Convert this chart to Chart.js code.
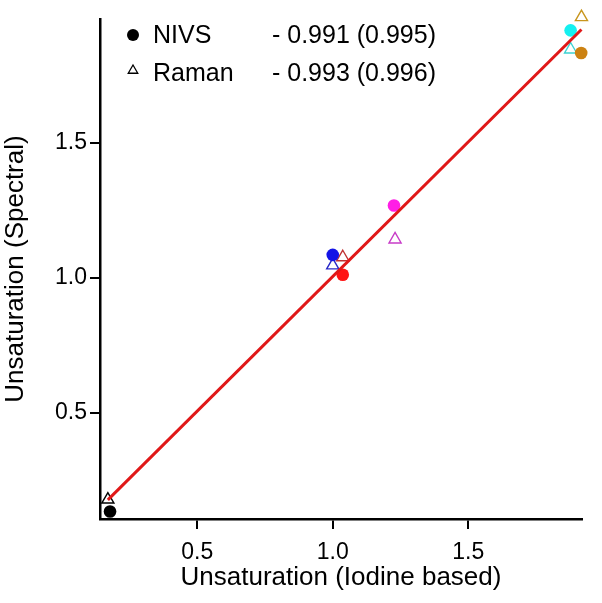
<!DOCTYPE html>
<html>
<head>
<meta charset="utf-8">
<script src="https://cdn.jsdelivr.net/npm/chart.js@4/dist/chart.umd.min.js"></script>
<style>
  html, body { margin: 0; padding: 0; background: #ffffff; }
  #wrap { width: 602px; height: 603px; }
</style>
</head>
<body>
<div id="wrap"><canvas id="c" width="602" height="603"></canvas></div>
<script>
// Samples (same order in every array): black, blue, red, magenta, cyan, brown
const xNIVS = [0.178, 1.000, 1.037, 1.226, 1.878, 1.917];
const yNIVS = [0.134, 1.085, 1.011, 1.268, 1.917, 1.833];
const xRaman = [0.170, 1.000, 1.037, 1.230, 1.878, 1.918];
const yRaman = [0.178, 1.046, 1.076, 1.142, 1.846, 1.966];
const nivsColors = ['#000000', '#1414e6', '#ff1414', '#ff1ee6', '#14f0f0', '#cc8212'];
const ramanColors = ['#000000', '#2828c8', '#c03232', '#c83cc8', '#3cd2d2', '#c8961e'];
// Regression line end points
const fitX = [0.170, 1.918];
const fitY = [0.177, 1.920];
const xTicks = [0.5, 1.0, 1.5];
const yTicks = [0.5, 1.0, 1.5];
const legendRows = [
  { name: 'NIVS', stat: '- 0.991 (0.995)', style: 'circle' },
  { name: 'Raman', stat: '- 0.993 (0.996)', style: 'triangle' }
];

const FONT = '"Liberation Sans", Arial, Helvetica, sans-serif';

const toPts = (xs, ys) => xs.map((x, i) => ({ x: x, y: ys[i] }));

const legendPlugin = {
  id: 'customLegend',
  afterDraw(chart) {
    const ctx = chart.ctx;
    ctx.save();
    ctx.fillStyle = '#000';
    ctx.strokeStyle = '#000';
    ctx.font = '25px ' + FONT;
    ctx.textBaseline = 'alphabetic';
    ctx.textAlign = 'left';
    const rows = [{ my: 35, by: 43 }, { my: 70.5, by: 81 }];
    legendRows.forEach((r, i) => {
      const mx = 133, my = rows[i].my;
      if (r.style === 'circle') {
        ctx.beginPath();
        ctx.arc(mx, my, 6, 0, Math.PI * 2);
        ctx.fill();
      } else {
        const rad = 5.5;
        ctx.beginPath();
        ctx.lineWidth = 1.3;
        ctx.moveTo(mx, my - rad);
        ctx.lineTo(mx + rad * Math.sin(2 * Math.PI / 3), my - rad * Math.cos(2 * Math.PI / 3));
        ctx.lineTo(mx + rad * Math.sin(4 * Math.PI / 3), my - rad * Math.cos(4 * Math.PI / 3));
        ctx.closePath();
        ctx.stroke();
      }
      ctx.fillText(r.name, 153, rows[i].by);
      ctx.fillText(r.stat, 272, rows[i].by);
    });
    ctx.restore();
  }
};

new Chart(document.getElementById('c'), {
  type: 'scatter',
  data: {
    datasets: [
      {
        label: 'Fit',
        data: toPts(fitX, fitY),
        showLine: true,
        borderColor: '#e01818',
        borderWidth: 3,
        pointRadius: 0,
        fill: false,
        order: 0
      },
      {
        label: 'NIVS',
        data: toPts(xNIVS, yNIVS),
        pointStyle: 'circle',
        pointRadius: 6.3,
        pointBackgroundColor: nivsColors,
        pointBorderColor: nivsColors,
        pointBorderWidth: 0,
        order: 1
      },
      {
        label: 'Raman',
        data: toPts(xRaman, yRaman),
        pointStyle: 'triangle',
        pointRadius: 7,
        pointBackgroundColor: 'rgba(255,255,255,0)',
        pointBorderColor: ramanColors,
        pointBorderWidth: 1.4,
        order: 2
      }
    ]
  },
  options: {
    responsive: false,
    animation: false,
    clip: false,
    layout: { padding: { top: 19, right: 20, left: 0, bottom: 0 } },
    plugins: {
      legend: { display: false },
      tooltip: { enabled: false }
    },
    scales: {
      x: {
        type: 'linear',
        position: 'bottom',
        min: 0.141,
        max: 1.92,
        afterBuildTicks: s => { s.ticks = xTicks.map(v => ({ value: v })); },
        afterFit: s => { s.height = 84; },
        border: { display: true, color: '#000', width: 2.5 },
        grid: { display: true, drawOnChartArea: false, drawTicks: true, tickLength: 10, color: '#000', lineWidth: 2 },
        ticks: {
          color: '#000',
          padding: 10,
          font: { family: FONT, size: 23 },
          callback: v => Number(v).toFixed(1)
        },
        title: {
          display: true,
          text: 'Unsaturation (Iodine based)',
          color: '#000',
          font: { family: FONT, size: 26 },
          padding: { top: 0, bottom: 10 }
        }
      },
      y: {
        type: 'linear',
        position: 'left',
        min: 0.106,
        max: 1.959,
        afterBuildTicks: s => { s.ticks = yTicks.map(v => ({ value: v })); },
        afterFit: s => { s.width = 100; },
        border: { display: true, color: '#000', width: 2.5 },
        grid: { display: true, drawOnChartArea: false, drawTicks: true, tickLength: 10, color: '#000', lineWidth: 2 },
        ticks: {
          color: '#000',
          padding: 3,
          font: { family: FONT, size: 23 },
          callback: v => Number(v).toFixed(1)
        },
        title: {
          display: true,
          text: 'Unsaturation (Spectral)',
          color: '#000',
          font: { family: FONT, size: 26 },
          padding: { top: 0, bottom: 0 }
        }
      }
    }
  },
  plugins: [legendPlugin]
});
</script>
</body>
</html>
